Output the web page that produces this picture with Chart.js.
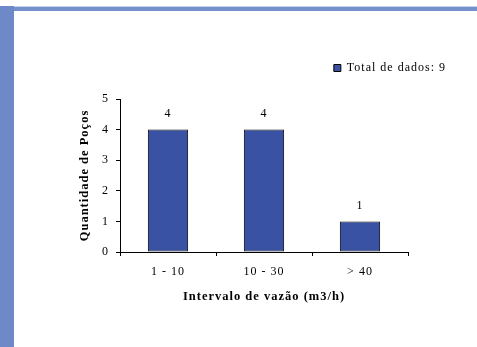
<!DOCTYPE html>
<html>
<head>
<meta charset="utf-8">
<script src="https://cdn.jsdelivr.net/npm/chart.js@4/dist/chart.umd.min.js"></script>
<style>
  html, body { margin: 0; padding: 0; background: #ffffff; }
  #wrap { position: relative; width: 477px; height: 347px; overflow: hidden; background: #fff; }
  #topline { position: absolute; left: 0; top: 6px; width: 477px; height: 1px; background: #c6d1ec; }
  #topbar { position: absolute; left: 0; top: 7px; width: 477px; height: 4px; background: #7590cb; }
  #leftbar { position: absolute; left: 0; top: 6px; width: 14px; height: 341px; background: #6d89c7; }
  #c { position: absolute; left: 0; top: 0; }
</style>
</head>
<body>
<div id="wrap">
  <div id="topline"></div>
  <div id="topbar"></div>
  <div id="leftbar"></div>
  <canvas id="c" width="477" height="347"></canvas>
</div>
<script>
const categories = ['1 - 10', '10 - 30', '> 40'];
const wellCounts = [4, 4, 1];
const seriesLabel = 'Total de dados: 9';
const yTickValues = [0, 1, 2, 3, 4, 5];
const yTitle = 'Quantidade de Poços';
const xTitle = 'Intervalo de vazão (m3/h)';

const serif = "'Liberation Serif', 'Times New Roman', serif";
const barColor = '#3a52a4';

const spacing = {
  id: 'spacing',
  beforeUpdate(chart) { chart.ctx.letterSpacing = '1px'; },
  beforeLayout(chart) { chart.ctx.letterSpacing = '1px'; },
  beforeDraw(chart) { chart.ctx.letterSpacing = '1px'; }
};

const valueLabels = {
  id: 'valueLabels',
  afterDatasetsDraw(chart) {
    const ctx = chart.ctx;
    const meta = chart.getDatasetMeta(0);
    ctx.save();
    ctx.font = '12px ' + serif;
    ctx.fillStyle = '#000';
    ctx.textAlign = 'center';
    ctx.textBaseline = 'middle';
    meta.data.forEach((bar, i) => {
      ctx.fillText(String(wellCounts[i]), bar.x, bar.y - 16);
    });
    ctx.restore();
  }
};

new Chart(document.getElementById('c'), {
  type: 'bar',
  data: {
    labels: categories,
    datasets: [{
      label: seriesLabel,
      data: wellCounts,
      backgroundColor: barColor,
      borderColor: '#000',
      borderWidth: 1,
      borderSkipped: false,
      categoryPercentage: 1,
      barPercentage: 0.42
    }]
  },
  options: {
    responsive: false,
    animation: false,
    devicePixelRatio: 1,
    layout: { padding: { top: 52, right: 21, bottom: 35, left: 0 } },
    plugins: {
      legend: {
        display: true,
        position: 'top',
        align: 'end',
        labels: {
          boxWidth: 7,
          boxHeight: 7,
          padding: 10,
          color: '#000',
          font: { family: serif, size: 12 }
        }
      },
      tooltip: { enabled: false }
    },
    scales: {
      x: {
        type: 'category',
        position: 'bottom',
        offset: true,
        grid: { display: true, offset: true, drawOnChartArea: false, drawTicks: true, tickLength: 4, color: '#000', lineWidth: 1 },
        border: { display: true, color: '#000', width: 1 },
        ticks: { color: '#000', padding: 9, maxRotation: 0, font: { family: serif, size: 12 } },
        title: { display: true, text: xTitle, color: '#000', padding: { top: 0, bottom: 8 }, font: { family: serif, size: 12.5, weight: 'bold' } },
        afterFit(s) { s.height = 347 - 35 - 252; }
      },
      xTop: {
        type: 'linear',
        position: 'top',
        display: true,
        grid: { display: false },
        border: { display: false },
        ticks: { display: false },
        afterFit(s) { s.height = 15; }
      },
      y: {
        type: 'linear',
        position: 'left',
        min: 0,
        max: 5,
        afterBuildTicks(s) { s.ticks = yTickValues.map(v => ({ value: v })); },
        grid: { display: true, drawOnChartArea: false, drawTicks: true, tickLength: 4, color: '#000', lineWidth: 1 },
        border: { display: true, color: '#000', width: 1 },
        ticks: { color: '#000', padding: 7, font: { family: serif, size: 12 } },
        title: { display: true, text: yTitle, color: '#000', padding: { top: 77, bottom: 0 }, font: { family: serif, size: 12.5, weight: 'bold' } },
        afterFit(s) { s.width = 120; }
      },
      yRight: {
        type: 'linear',
        position: 'right',
        display: true,
        grid: { display: false },
        border: { display: false },
        ticks: { display: false },
        afterFit(s) { s.width = 477 - 21 - 408; }
      }
    }
  },
  plugins: [spacing, valueLabels]
});
</script>
</body>
</html>
